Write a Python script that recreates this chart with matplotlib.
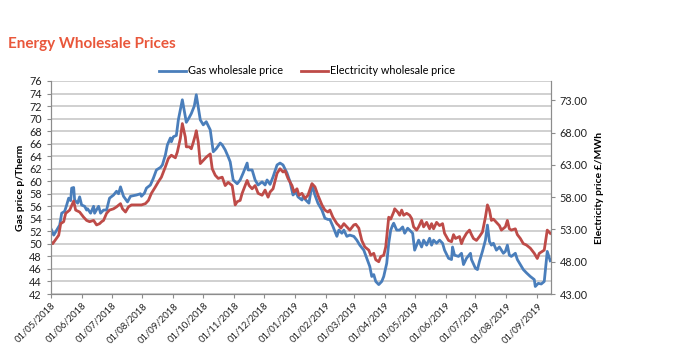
import matplotlib
matplotlib.use('Agg')
import matplotlib.pyplot as plt
import matplotlib.dates as mdates
from matplotlib.ticker import FormatStrFormatter
import pandas as pd

# days since 01/05/2018
gas_days = [0, 3, 6, 9, 11, 14, 16, 18, 20, 21, 23, 24, 27, 29, 31, 34, 36, 37, 40, 43,
            44, 48, 50, 53, 56, 59, 63, 66, 68, 70, 71, 73, 77, 80, 86, 90, 91, 94, 96, 100,
            103, 106, 110, 112, 115, 117, 120, 121, 123, 126, 128, 130, 132, 136, 139, 141, 144, 146, 150, 153,
            156, 160, 163, 166, 170, 172, 175, 178, 180, 183, 187, 190, 193, 197, 198, 202, 205, 208, 212, 215,
            217, 220, 223, 227, 230, 233, 237, 240, 243, 246, 248, 252, 253, 257, 259, 262, 265, 268, 272, 275,
            278, 280, 283, 287, 289, 292, 294, 297, 300, 304, 307, 310, 314, 317, 320, 322, 324, 326, 329, 332,
            334, 337, 339, 341, 343, 344, 347, 350, 353, 355, 358, 360, 363, 365, 367, 369, 372, 374, 377, 380,
            382, 384, 387, 390, 393, 395, 399, 402, 403, 405, 409, 412, 414, 417, 421, 422, 426, 428, 430, 433,
            436, 438, 440, 442, 444, 447, 450, 454, 456, 458, 460, 462, 466, 468, 471, 474, 477, 481, 485, 486,
            489, 492, 495, 498, 501]
gas_price = [52.5, 51.4, 52.2, 53.0, 54.9, 55.2, 56.2, 57.3, 56.9, 58.9, 59.0, 57.0, 56.5, 57.5, 56.2, 56.0, 55.4, 55.6, 54.9, 56.0,
             54.9, 56.0, 54.9, 55.4, 55.4, 57.3, 57.8, 58.4, 58.0, 59.1, 58.6, 57.6, 56.7, 57.6, 57.8, 58.0, 57.6, 58.1, 58.9, 59.4,
             60.5, 61.8, 62.2, 62.6, 64.2, 65.8, 66.9, 66.3, 67.1, 67.3, 69.8, 71.4, 73.0, 69.4, 70.2, 70.8, 72.0, 73.8, 69.8, 69.0,
             69.5, 68.2, 64.7, 65.2, 66.1, 65.8, 65.0, 63.9, 63.1, 60.2, 59.6, 60.2, 61.3, 62.9, 61.8, 61.8, 60.2, 59.4, 59.9, 59.4,
             60.2, 59.5, 60.7, 62.6, 62.9, 62.6, 61.3, 59.9, 57.8, 58.3, 57.5, 57.0, 57.5, 56.8, 56.5, 59.4, 57.8, 56.5, 55.4, 54.1,
             53.9, 53.9, 52.8, 51.2, 52.2, 51.7, 52.2, 51.2, 51.4, 51.2, 50.6, 49.8, 49.0, 47.7, 46.4, 44.8, 45.1, 44.0, 43.5, 44.0,
             44.8, 46.9, 50.1, 52.2, 53.0, 53.3, 52.2, 52.2, 52.7, 51.7, 52.5, 52.2, 51.7, 49.0, 49.8, 50.6, 49.5, 50.6, 49.8, 50.9,
             49.8, 50.6, 50.1, 50.6, 50.1, 49.0, 47.7, 47.5, 49.5, 48.2, 48.0, 48.5, 46.7, 47.7, 48.5, 47.5, 46.1, 45.9, 47.2, 48.8,
             50.6, 53.0, 50.4, 49.8, 50.1, 49.0, 49.5, 48.5, 48.8, 49.8, 48.2, 48.0, 48.5, 47.5, 46.7, 45.9, 45.4, 44.8, 44.3, 43.2,
             43.7, 43.6, 44.0, 48.8, 47.3]

elec_days = [0, 2, 8, 10, 13, 15, 19, 23, 25, 29, 33, 36, 39, 43, 46, 49, 51, 53, 56, 59,
             63, 66, 70, 72, 75, 78, 81, 86, 91, 95, 98, 101, 105, 108, 111, 115, 118, 121, 125, 127,
             130, 132, 135, 136, 139, 141, 143, 145, 146, 148, 150, 153, 156, 160, 162, 165, 168, 172, 175, 178,
             182, 183, 185, 187, 190, 192, 195, 197, 199, 202, 205, 208, 212, 215, 218, 220, 223, 227, 230, 233,
             235, 238, 242, 244, 247, 249, 252, 255, 258, 262, 265, 268, 272, 275, 278, 280, 283, 287, 289, 291,
             294, 297, 300, 304, 306, 309, 312, 315, 319, 321, 324, 326, 329, 331, 334, 336, 339, 341, 344, 345,
             348, 350, 352, 354, 357, 360, 362, 364, 367, 369, 372, 374, 377, 380, 382, 384, 387, 390, 393, 395,
             399, 402, 404, 406, 410, 412, 414, 417, 420, 422, 424, 427, 430, 433, 436, 438, 440, 442, 444, 447,
             450, 452, 456, 458, 460, 462, 466, 468, 471, 474, 477, 481, 485, 488, 490, 492, 495, 498, 501]
elec_price = [51.1, 50.8, 52.1, 53.9, 54.2, 55.5, 56.0, 57.4, 56.0, 55.7, 54.9, 54.4, 54.2, 54.4, 53.7, 53.9, 54.2, 54.4, 55.5, 56.0,
              56.2, 56.5, 57.0, 56.2, 55.7, 56.5, 56.8, 56.8, 56.8, 57.0, 57.5, 58.6, 59.6, 60.4, 61.1, 62.7, 64.0, 64.5, 64.1, 65.0,
              67.1, 69.4, 67.3, 65.8, 65.8, 65.5, 66.5, 67.6, 68.3, 66.5, 63.2, 63.7, 64.2, 64.7, 62.4, 61.4, 60.9, 61.1, 59.8, 60.3,
              59.8, 58.8, 56.8, 57.3, 57.5, 58.6, 59.8, 60.6, 59.8, 59.3, 59.8, 58.6, 58.3, 59.1, 58.0, 58.8, 59.3, 61.7, 62.4, 61.9,
              62.1, 60.9, 59.8, 58.8, 59.3, 58.3, 58.6, 57.8, 58.3, 60.1, 59.6, 58.3, 56.8, 56.0, 55.7, 56.0, 54.9, 53.9, 53.6, 53.2,
              53.9, 53.4, 52.9, 53.7, 53.8, 53.2, 51.3, 50.3, 49.8, 49.0, 49.3, 48.3, 48.0, 48.8, 49.0, 50.3, 54.9, 54.6, 55.7, 56.2,
              55.7, 55.2, 56.0, 55.2, 55.5, 55.2, 54.7, 53.4, 52.9, 53.4, 54.4, 53.4, 54.1, 53.1, 53.9, 53.1, 54.1, 53.6, 53.9, 52.4,
              51.3, 51.1, 52.2, 51.6, 51.9, 50.8, 51.6, 52.4, 52.9, 52.2, 51.6, 51.3, 51.9, 52.6, 54.9, 56.8, 56.0, 54.4, 54.6, 54.1,
              53.6, 52.9, 53.4, 54.4, 53.1, 52.9, 53.1, 52.2, 51.6, 50.8, 50.6, 50.1, 49.3, 48.5, 49.3, 49.5, 49.8, 52.9, 52.4]

month_starts = pd.date_range('2018-05-01', '2019-09-01', freq='MS')

start = pd.Timestamp('2018-05-01')
gas_dates = start + pd.to_timedelta(gas_days, unit='D')
elec_dates = start + pd.to_timedelta(elec_days, unit='D')

plt.rcParams['font.family'] = ['Lato', 'DejaVu Sans']

blue = '#4A7EBB'
red = '#BE4B48'
grey = '#8C8C8C'

fig = plt.figure(figsize=(6.79, 3.64), dpi=100)
ax = fig.add_axes([0.0747, 0.1923, 0.7364, 0.5852])
ax2 = ax.twinx()

l1, = ax.plot(gas_dates, gas_price, color=blue, lw=2.0, label='Gas wholesale price')
l2, = ax2.plot(elec_dates, elec_price, color=red, lw=2.0, label='Electricity wholesale price')

ax.set_xlim(start, start + pd.Timedelta(days=501.5))
ax.set_ylim(42, 76)
ax.set_yticks(range(42, 77, 2))
ax2.set_ylim(43, 76)
ax2.set_yticks(range(43, 74, 5))
ax2.yaxis.set_major_formatter(FormatStrFormatter('%.2f'))

ax.set_xticks(month_starts)
ax.xaxis.set_major_formatter(mdates.DateFormatter('%d/%m/%Y'))
plt.setp(ax.get_xticklabels(), rotation=45, ha='right', rotation_mode='anchor')

ax.yaxis.grid(True, color='#C4C4C4', lw=1.1)
ax.set_axisbelow(True)

for a in (ax, ax2):
    a.spines['top'].set_visible(False)
    for s in ('left', 'right', 'bottom'):
        a.spines[s].set_color(grey)
    a.tick_params(colors='#222222', labelsize=7.8, length=3, color=grey)
ax.tick_params(axis='x', labelsize=6.8, pad=2)

ax.set_ylabel('Gas price p/Therm', fontsize=7.5, fontweight='bold', labelpad=3)
ax2.set_ylabel('Electricity price £/MWh', fontsize=7.5, fontweight='bold', labelpad=5)

fig.legend(handles=[l1, l2], loc='center', bbox_to_anchor=(0.452, 0.805), ncol=2,
           frameon=False, fontsize=7.8, handlelength=2.5, columnspacing=1.6, handletextpad=0.2)

fig.text(0.012, 0.88, 'Energy Wholesale Prices', color='#E9573B', fontsize=11,
         fontweight='bold', va='center', ha='left')

fig.savefig('out.png', dpi=100)
